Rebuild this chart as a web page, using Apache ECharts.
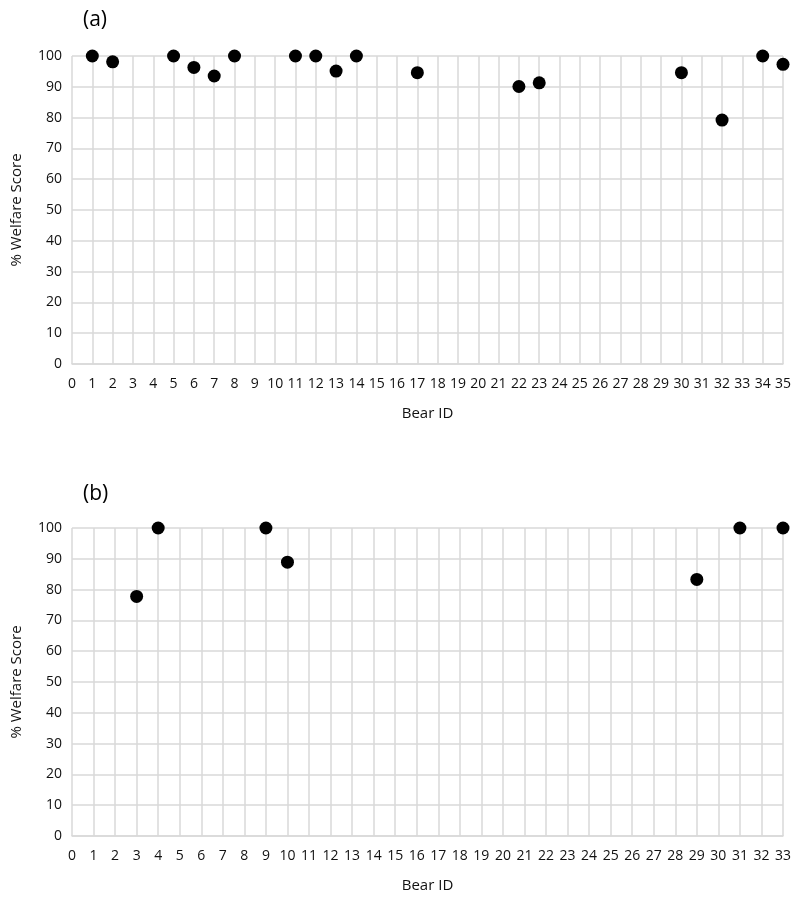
<!DOCTYPE html>
<html>
<head>
<meta charset="utf-8">
<script src="https://cdn.jsdelivr.net/npm/echarts@6/dist/echarts.min.js"></script>
<style>
  html, body { margin: 0; padding: 0; background: #fff; }
  #chart { width: 799px; height: 900px; }
</style>
</head>
<body>
<div id="chart"></div>
<script>
// panel (a)
const idsA = [1, 2, 5, 6, 7, 8, 11, 12, 13, 14, 17, 22, 23, 30, 32, 34, 35];
const scoresA = [100, 98.1, 100, 96.3, 93.5, 100, 100, 100, 95.1, 100, 94.6, 90.1, 91.3, 94.6, 79.2, 100, 97.3];
const maxIdA = 35;

// panel (b)
const idsB = [3, 4, 9, 10, 29, 31, 33];
const scoresB = [77.8, 100, 100, 88.9, 83.3, 100, 100];
const maxIdB = 33;

const panelLabels = ['(a)', '(b)'];
const yName = '% Welfare Score';
const xName = 'Bear ID';

const font = '"Open Sans", "Noto Sans", sans-serif';
const gridColor = '#d9d9d9';
const textColor = '#111';

function xAxisFor(gridIndex, maxId) {
  return {
    gridIndex,
    type: 'value',
    min: 0,
    max: maxId,
    interval: 1,
    name: xName,
    nameLocation: 'middle',
    nameGap: 42,
    nameTextStyle: { fontFamily: font, fontSize: 15, color: textColor },
    axisLine: { show: true, lineStyle: { color: gridColor, width: 1.5 } },
    axisTick: { show: false },
    axisLabel: { fontFamily: font, fontSize: 14, color: textColor, margin: 13 },
    splitLine: { show: true, lineStyle: { color: gridColor, width: 1.5 } }
  };
}

function yAxisFor(gridIndex) {
  return {
    gridIndex,
    type: 'value',
    min: 0,
    max: 100,
    interval: 10,
    name: yName,
    nameLocation: 'middle',
    nameGap: 48,
    nameTextStyle: { fontFamily: font, fontSize: 15, color: textColor },
    axisLine: { show: false },
    axisTick: { show: false },
    axisLabel: { fontFamily: font, fontSize: 14, color: textColor, margin: 10 },
    splitLine: { show: true, lineStyle: { color: gridColor, width: 1.5 } }
  };
}

const chart = echarts.init(document.getElementById('chart'));
chart.setOption({
  animation: false,
  backgroundColor: '#fff',
  title: [
    { text: panelLabels[0], left: 78, top: 5, textStyle: { fontFamily: font, fontSize: 21, fontWeight: 'normal', color: '#000' } },
    { text: panelLabels[1], left: 78, top: 479, textStyle: { fontFamily: font, fontSize: 21, fontWeight: 'normal', color: '#000' } }
  ],
  grid: [
    { left: 72, right: 16, top: 56, height: 308 },
    { left: 72, right: 16, top: 528, height: 308 }
  ],
  xAxis: [xAxisFor(0, maxIdA), xAxisFor(1, maxIdB)],
  yAxis: [yAxisFor(0), yAxisFor(1)],
  series: [
    {
      type: 'scatter',
      xAxisIndex: 0,
      yAxisIndex: 0,
      symbolSize: 13,
      itemStyle: { color: '#000', opacity: 1 },
      data: idsA.map((id, i) => [id, scoresA[i]])
    },
    {
      type: 'scatter',
      xAxisIndex: 1,
      yAxisIndex: 1,
      symbolSize: 13,
      itemStyle: { color: '#000', opacity: 1 },
      data: idsB.map((id, i) => [id, scoresB[i]])
    }
  ]
});
</script>
</body>
</html>
